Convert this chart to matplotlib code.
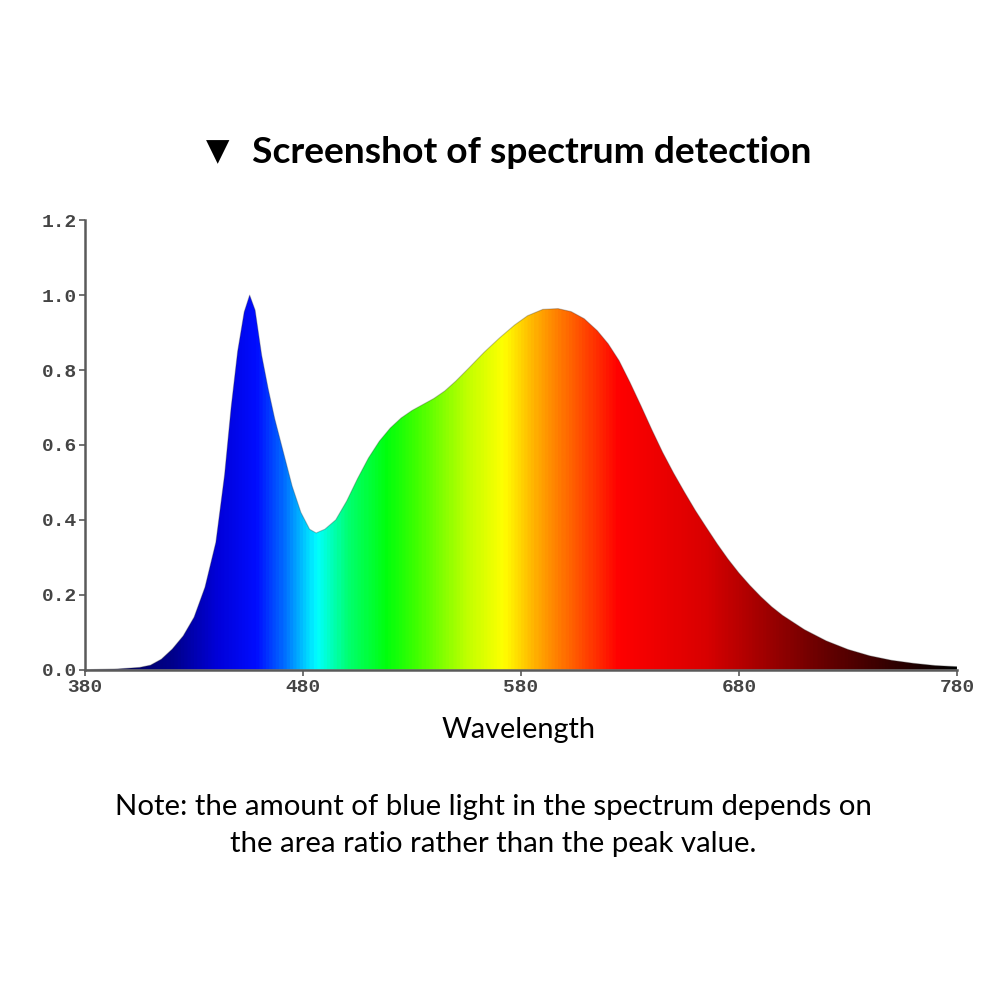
import matplotlib
matplotlib.use("Agg")
import matplotlib.pyplot as plt
import numpy as np
from matplotlib.colors import LinearSegmentedColormap
from matplotlib.patches import Polygon

# spectrum (wavelength nm, relative intensity)
wavelength = [380, 395, 405, 410, 415, 420, 425, 430, 435, 440, 444, 447, 450, 453, 455.5,
              458, 461, 464, 467, 471, 475, 479, 483, 486, 490, 495, 500, 505, 510, 515,
              520, 525, 530, 535, 540, 545, 550, 556, 563, 570, 577, 583, 590, 597, 603,
              609, 615, 620, 625, 630, 635, 640, 645, 650, 655, 660, 665, 670, 675, 680,
              685, 690, 695, 700, 710, 720, 730, 740, 750, 760, 770, 780]
intensity = [0.0, 0.002, 0.006, 0.012, 0.028, 0.055, 0.09, 0.14, 0.22, 0.34, 0.52, 0.70, 0.85, 0.955, 1.0,
             0.96, 0.84, 0.75, 0.67, 0.58, 0.49, 0.42, 0.375, 0.365, 0.375, 0.40, 0.45, 0.51, 0.565, 0.61,
             0.645, 0.672, 0.692, 0.708, 0.724, 0.744, 0.77, 0.805, 0.847, 0.885, 0.92, 0.945, 0.962, 0.964, 0.956,
             0.937, 0.905, 0.87, 0.825, 0.767, 0.705, 0.641, 0.58, 0.525, 0.474, 0.425, 0.38, 0.336, 0.295, 0.258,
             0.225, 0.195, 0.168, 0.145, 0.107, 0.077, 0.054, 0.037, 0.025, 0.017, 0.011, 0.008]

# colour stops of the rainbow fill
stop_nm = [380, 420, 440, 458, 470, 486, 500, 518, 532, 555, 572, 590, 605, 625, 665, 720, 780]
stop_rgb = [(0, 0, 0.25), (0, 0, 0.55), (0, 0, 0.85), (0, 0.05, 1), (0, 0.4, 1), (0, 1, 1),
            (0, 1, 0.45), (0, 1, 0.05), (0.25, 1, 0), (0.75, 1, 0), (1, 1, 0), (1, 0.62, 0),
            (1, 0.35, 0), (1, 0, 0), (0.85, 0, 0), (0.4, 0, 0), (0, 0, 0)]

xticks = [380, 480, 580, 680, 780]
yticks = [0.0, 0.2, 0.4, 0.6, 0.8, 1.0, 1.2]

fig = plt.figure(figsize=(10.01, 10.01), dpi=100)
ax = fig.add_axes([0.085, 0.331, 0.871, 0.449])

pos = [(w - 380) / 400 for w in stop_nm]
cmap = LinearSegmentedColormap.from_list("spec", list(zip(pos, stop_rgb)))

grad = np.linspace(380, 780, 800).reshape(1, -1)
img = ax.imshow(grad, cmap=cmap, vmin=380, vmax=780, extent=[380, 780, 0, 1.2],
                aspect="auto", interpolation="bilinear", zorder=1)
verts = list(zip(wavelength, intensity)) + [(780, 0), (380, 0)]
poly = Polygon(verts, closed=True, facecolor="none", edgecolor="none", transform=ax.transData)
ax.add_patch(poly)
img.set_clip_path(poly)
ax.plot(wavelength, intensity, color="#333333", lw=0.8, alpha=0.3, zorder=2)

ax.set_xlim(380, 780)
ax.set_ylim(0, 1.2)
ax.set_xticks(xticks)
ax.set_yticks(yticks)
ax.set_xticklabels([str(t) for t in xticks])
ax.set_yticklabels(["%.1f" % t for t in yticks])
for s in ["top", "right"]:
    ax.spines[s].set_visible(False)
for s in ["left", "bottom"]:
    ax.spines[s].set_color("#5a5a5a")
    ax.spines[s].set_linewidth(1.8)
ax.tick_params(colors="#5a5a5a", length=4, width=1.2, pad=2)
ax.tick_params(axis="x", pad=3)
for lab in ax.get_xticklabels() + ax.get_yticklabels():
    lab.set_family("Liberation Mono")
    lab.set_fontweight("bold")
    lab.set_fontsize(14)
    lab.set_color("#444444")

fig.text(0.217, 0.848, "\u25bc", fontsize=22, ha="center", va="center", family="DejaVu Sans")
fig.text(0.531, 0.848, "Screenshot of spectrum detection", fontsize=26.7, fontweight="bold",
         ha="center", va="center", family=["Lato", "DejaVu Sans"])
fig.text(0.518, 0.271, "Wavelength", fontsize=20.8, ha="center", va="center", family="Lato")
fig.text(0.493, 0.194, "Note: the amount of blue light in the spectrum depends on",
         fontsize=21.2, ha="center", va="center", family="Lato")
fig.text(0.493, 0.157, "the area ratio rather than the peak value.",
         fontsize=21.2, ha="center", va="center", family="Lato")

fig.savefig("out.png", dpi=100, facecolor="white")
